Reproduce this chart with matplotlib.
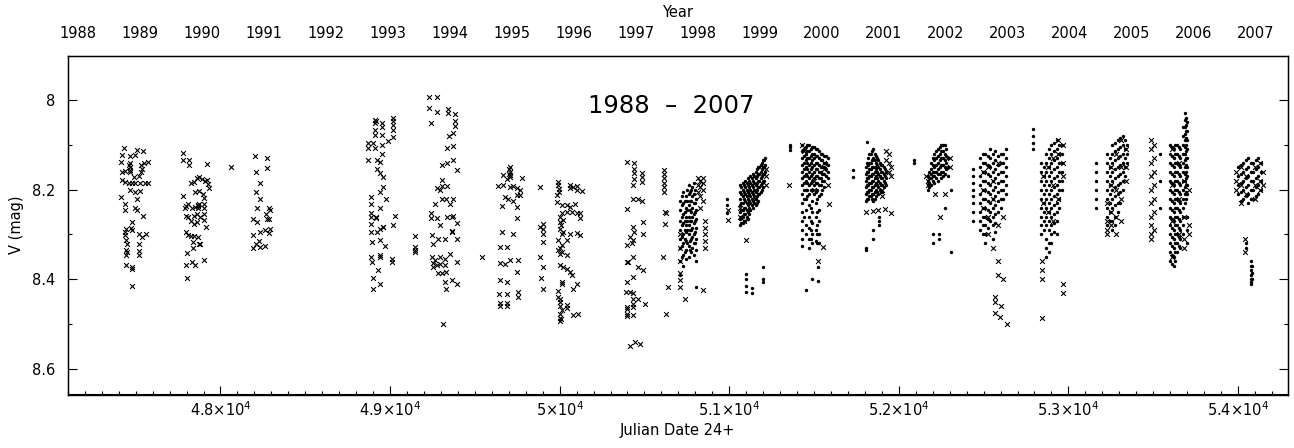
import matplotlib
matplotlib.use("Agg")
import matplotlib.pyplot as plt
from matplotlib.ticker import MultipleLocator

# V magnitudes, JD - 2400000
# sparse seasons: (JD, V) for each cross
cross_1989 = [
    (47433, 8.107), (47419, 8.123), (47464, 8.124), (47497, 8.123), (47507, 8.112), (47543, 8.114),
    (47413, 8.139), (47464, 8.141), (47464, 8.156), (47464, 8.150), (47458, 8.146), (47530, 8.146),
    (47550, 8.141), (47570, 8.138), (47419, 8.160), (47438, 8.158), (47468, 8.160), (47530, 8.160),
    (47540, 8.153), (47419, 8.178), (47438, 8.183), (47458, 8.186), (47478, 8.186), (47497, 8.186),
    (47527, 8.186), (47556, 8.186), (47570, 8.186), (47490, 8.171), (47520, 8.170), (47468, 8.201),
    (47497, 8.206), (47527, 8.202), (47413, 8.217), (47507, 8.220), (47438, 8.231), (47438, 8.246),
    (47497, 8.241), (47507, 8.246), (47543, 8.259), (47478, 8.272), (47442, 8.287), (47478, 8.290),
    (47438, 8.302), (47442, 8.313), (47448, 8.322), (47517, 8.300), (47517, 8.322), (47540, 8.305),
    (47562, 8.298), (47517, 8.337), (47517, 8.346), (47442, 8.346), (47442, 8.369), (47478, 8.372),
    (47480, 8.378), (47478, 8.415), (47444, 8.335), (47446, 8.340), (47470, 8.285), (47440, 8.295),
]
cross_1990 = [
    (47782, 8.119), (47782, 8.134), (47814, 8.134), (47814, 8.146), (47920, 8.144), (47827, 8.186),
    (47845, 8.182), (47861, 8.175), (47876, 8.172), (47890, 8.177), (47910, 8.180), (47920, 8.179),
    (47929, 8.188), (47935, 8.197), (47851, 8.205), (47876, 8.203), (47896, 8.210), (47782, 8.215),
    (47904, 8.218), (47811, 8.231), (47798, 8.237), (47792, 8.241), (47831, 8.240), (47851, 8.239),
    (47865, 8.235), (47876, 8.231), (47900, 8.231), (47904, 8.240), (47798, 8.258), (47811, 8.262),
    (47841, 8.258), (47861, 8.255), (47880, 8.260), (47904, 8.255), (47904, 8.268), (47827, 8.271),
    (47841, 8.276), (47861, 8.272), (47916, 8.283), (47798, 8.294), (47811, 8.302), (47827, 8.304),
    (47841, 8.304), (47865, 8.305), (47876, 8.322), (47837, 8.317), (47802, 8.341), (47837, 8.331),
    (47798, 8.369), (47831, 8.361), (47851, 8.369), (47904, 8.356), (47802, 8.398), (47870, 8.240),
    (47868, 8.236), (47880, 8.322), (48061, 8.149),
]
cross_1991 = [
    (48204, 8.124), (48277, 8.130), (48210, 8.160), (48273, 8.152), (48234, 8.186), (48210, 8.205),
    (48234, 8.221), (48214, 8.242), (48289, 8.240), (48293, 8.246), (48190, 8.266), (48216, 8.272),
    (48270, 8.254), (48273, 8.266), (48289, 8.266), (48293, 8.287), (48263, 8.289), (48234, 8.294),
    (48285, 8.296), (48190, 8.302), (48230, 8.315), (48210, 8.321), (48234, 8.328), (48263, 8.326),
    (48193, 8.331),
]
cross_1993 = [
    (48912, 8.045), (48917, 8.048), (48912, 8.052), (48951, 8.052), (49020, 8.041), (49020, 8.048),
    (49020, 8.056), (48912, 8.066), (48951, 8.060), (49020, 8.067), (48912, 8.078), (48951, 8.078),
    (49020, 8.083), (48990, 8.091), (48872, 8.097), (48902, 8.097), (48872, 8.108), (48912, 8.108),
    (48951, 8.101), (48951, 8.121), (48872, 8.135), (48921, 8.134), (48941, 8.138), (48921, 8.153),
    (48941, 8.164), (48957, 8.171), (48957, 8.194), (48941, 8.205), (48976, 8.222), (48886, 8.216),
    (48886, 8.231), (48941, 8.242), (48886, 8.252), (48917, 8.261), (48886, 8.261), (49029, 8.259),
    (48886, 8.276), (48917, 8.264), (48957, 8.283), (49016, 8.279), (48886, 8.294), (48921, 8.294),
    (48941, 8.287), (48961, 8.283), (48896, 8.317), (48941, 8.313), (48971, 8.326), (48886, 8.350),
    (48896, 8.361), (48941, 8.350), (48941, 8.346), (49010, 8.354), (49010, 8.361), (48931, 8.380),
    (48902, 8.398), (48941, 8.410), (48902, 8.421),
    (49147, 8.304), (49147, 8.328), (49147, 8.335), (49147, 8.339),
]
cross_1994 = [
    (49232, 7.993), (49275, 7.993), (49232, 8.019), (49275, 8.028), (49344, 8.021), (49344, 8.030),
    (49383, 8.032), (49240, 8.051), (49383, 8.048), (49383, 8.058), (49373, 8.074), (49350, 8.080),
    (49338, 8.108), (49373, 8.103), (49305, 8.145), (49338, 8.140), (49373, 8.134), (49393, 8.156),
    (49305, 8.179), (49295, 8.201), (49275, 8.197), (49305, 8.192), (49338, 8.192), (49265, 8.232),
    (49305, 8.220), (49330, 8.220), (49373, 8.220), (49354, 8.231), (49240, 8.252), (49240, 8.264),
    (49275, 8.264), (49295, 8.279), (49338, 8.262), (49364, 8.262), (49373, 8.259), (49393, 8.274),
    (49364, 8.292), (49364, 8.294), (49246, 8.302), (49285, 8.311), (49324, 8.311), (49393, 8.311),
    (49255, 8.322), (49246, 8.351), (49265, 8.358), (49295, 8.351), (49324, 8.354), (49354, 8.344),
    (49393, 8.361), (49252, 8.363), (49255, 8.372), (49275, 8.369), (49295, 8.365), (49324, 8.369),
    (49285, 8.386), (49305, 8.387), (49330, 8.384), (49364, 8.401), (49324, 8.406), (49330, 8.421),
    (49393, 8.410), (49314, 8.499), (49540, 8.350),
]
cross_1995 = [
    (49707, 8.150), (49707, 8.160), (49668, 8.168), (49707, 8.171), (49688, 8.177), (49638, 8.192),
    (49668, 8.190), (49707, 8.194), (49727, 8.192), (49776, 8.175), (49747, 8.197), (49766, 8.201),
    (49766, 8.212), (49747, 8.212), (49678, 8.216), (49697, 8.222), (49727, 8.225), (49658, 8.237),
    (49747, 8.238), (49747, 8.264), (49658, 8.294), (49727, 8.299), (49648, 8.328), (49688, 8.328),
    (49648, 8.363), (49678, 8.366), (49707, 8.358), (49756, 8.356), (49747, 8.384), (49648, 8.401),
    (49688, 8.406), (49645, 8.432), (49688, 8.432), (49756, 8.428), (49756, 8.440), (49648, 8.454),
    (49648, 8.460), (49688, 8.453), (49688, 8.459), (49700, 8.155), (49704, 8.165), (49710, 8.168),
]
cross_1996 = [
    (49992, 8.183), (49992, 8.190), (50061, 8.190), (50061, 8.197), (50080, 8.194), (50100, 8.192),
    (50100, 8.201), (50130, 8.203), (49982, 8.212), (49982, 8.227), (50012, 8.235), (50041, 8.235),
    (50061, 8.238), (50090, 8.231), (50012, 8.252), (50041, 8.250), (50071, 8.250), (50100, 8.252),
    (50120, 8.253), (50120, 8.264), (49884, 8.283), (49903, 8.276), (49903, 8.287), (49903, 8.298),
    (49903, 8.317), (50002, 8.272), (50021, 8.268), (50002, 8.287), (50012, 8.299), (50021, 8.294),
    (50061, 8.298), (50100, 8.297), (50120, 8.302), (49992, 8.313), (50012, 8.324), (50041, 8.313),
    (49992, 8.335), (50012, 8.339), (50002, 8.343), (50041, 8.346), (49884, 8.350), (49903, 8.373),
    (50002, 8.369), (50021, 8.372), (50041, 8.376), (50061, 8.384), (50071, 8.391), (49893, 8.398),
    (49903, 8.421), (50012, 8.406), (50012, 8.411), (50080, 8.421), (50100, 8.410), (49992, 8.440),
    (50002, 8.451), (50041, 8.458), (50041, 8.465), (50012, 8.469), (50002, 8.477), (50002, 8.486),
    (50002, 8.493), (50080, 8.480), (50110, 8.477), (49992, 8.426), (49995, 8.198), (49998, 8.205),
    (50005, 8.262), (50008, 8.280), (50000, 8.330), (50005, 8.445), (50003, 8.460), (50006, 8.488),
    (49884, 8.194),
]
cross_1997 = [
    (50398, 8.138), (50438, 8.140), (50438, 8.153), (50438, 8.162), (50438, 8.177), (50434, 8.190),
    (50483, 8.162), (50483, 8.171), (50483, 8.183), (50434, 8.220), (50463, 8.222), (50483, 8.225),
    (50398, 8.244), (50434, 8.283), (50438, 8.294), (50414, 8.305), (50489, 8.272), (50489, 8.298),
    (50434, 8.313), (50395, 8.324), (50424, 8.319), (50430, 8.350), (50395, 8.361), (50404, 8.361),
    (50463, 8.372), (50493, 8.380), (50434, 8.395), (50395, 8.406), (50391, 8.428), (50414, 8.428),
    (50434, 8.431), (50430, 8.443), (50463, 8.443), (50503, 8.456), (50395, 8.462), (50395, 8.467),
    (50395, 8.477), (50395, 8.483), (50430, 8.456), (50430, 8.462), (50430, 8.480),
    (50414, 8.548), (50445, 8.540), (50475, 8.545),
]

# dense seasons: nightly columns (JD, [V, ...])
cross_1998 = [
    (50616, [8.156, 8.165, 8.175, 8.185, 8.195, 8.205]), (50621, [8.250, 8.277]), (50626, [8.253, 8.477]),
    (50609, [8.350]), (50640, [8.417]), (50709, [8.402, 8.417, 8.30, 8.33, 8.36, 8.385]),
    (50739, [8.443]), (50815, [8.175, 8.19, 8.205]), (50830, [8.18, 8.195, 8.215, 8.24]),
    (50845, [8.175, 8.185, 8.20, 8.225]), (50860, [8.27, 8.285, 8.30, 8.315, 8.33]), (50847, [8.423]),
]
dot_1998 = [
    (50712, [8.225, 8.245, 8.27, 8.29, 8.31, 8.33, 8.36, 8.39]),
    (50720, [8.215, 8.235, 8.26, 8.28, 8.305, 8.325, 8.35]),
    (50728, [8.205, 8.23, 8.255, 8.275, 8.30, 8.32, 8.345, 8.37]),
    (50737, [8.225, 8.25, 8.27, 8.29, 8.31, 8.34]),
    (50745, [8.215, 8.24, 8.26, 8.28, 8.295, 8.315, 8.335, 8.355]),
    (50752, [8.20, 8.225, 8.245, 8.27, 8.29, 8.32]),
    (50760, [8.19, 8.21, 8.235, 8.26, 8.28, 8.30, 8.325, 8.35]),
    (50768, [8.205, 8.225, 8.245, 8.27, 8.29, 8.315, 8.335]),
    (50775, [8.20, 8.225, 8.25, 8.27, 8.29, 8.31, 8.34]),
    (50783, [8.195, 8.215, 8.24, 8.26, 8.285, 8.305, 8.33]),
    (50790, [8.185, 8.21, 8.23, 8.255, 8.275, 8.30, 8.32, 8.345]),
    (50798, [8.20, 8.23, 8.25, 8.27, 8.295, 8.32]),
    (50805, [8.22, 8.245, 8.265, 8.285, 8.31, 8.335, 8.36]),
    (50807, [8.417]),
]
cross_1999 = [
    (50990, [8.245, 8.268]), (51100, [8.313]), (51215, [8.155, 8.17, 8.19]),
    (51065, [8.24, 8.26]), (51150, [8.20, 8.22]), (51090, [8.27]),
]
dot_1999 = [
    (50984, [8.22, 8.235, 8.253]),
    (51065, [8.19, 8.205, 8.22, 8.235, 8.25, 8.265, 8.28]),
    (51072, [8.195, 8.21, 8.23, 8.245, 8.26, 8.275]),
    (51080, [8.185, 8.20, 8.215, 8.23, 8.245, 8.26, 8.275]),
    (51087, [8.19, 8.205, 8.22, 8.24, 8.255, 8.27]),
    (51095, [8.18, 8.195, 8.21, 8.225, 8.24, 8.255, 8.27]),
    (51102, [8.185, 8.20, 8.215, 8.23, 8.245, 8.26]),
    (51110, [8.175, 8.19, 8.205, 8.22, 8.235, 8.25, 8.265]),
    (51117, [8.18, 8.195, 8.21, 8.225, 8.24, 8.255]),
    (51125, [8.17, 8.185, 8.20, 8.215, 8.23, 8.245]),
    (51133, [8.175, 8.19, 8.205, 8.22, 8.235]),
    (51140, [8.165, 8.18, 8.195, 8.21, 8.225, 8.24]),
    (51147, [8.17, 8.185, 8.20, 8.215, 8.23]),
    (51155, [8.16, 8.175, 8.19, 8.205, 8.22, 8.235]),
    (51162, [8.155, 8.17, 8.185, 8.20, 8.215, 8.23]),
    (51170, [8.15, 8.165, 8.18, 8.195, 8.21, 8.225]),
    (51177, [8.15, 8.165, 8.18, 8.195, 8.21]),
    (51185, [8.145, 8.16, 8.175, 8.19, 8.205]),
    (51192, [8.14, 8.155, 8.17, 8.185, 8.20]),
    (51200, [8.135, 8.15, 8.165, 8.18, 8.195, 8.373, 8.40, 8.405]),
    (51206, [8.135, 8.15, 8.165, 8.18]),
    (51212, [8.13, 8.145, 8.16]),
    (51100, [8.388, 8.40, 8.415, 8.429]), (51132, [8.42, 8.43]),
]
cross_2000 = [
    (51350, [8.19]), (51524, [8.36]), (51583, [8.19]), (51587, [8.231]), (51554, [8.328]),
    (51430, [8.10]), (51440, [8.115]), (51560, [8.14, 8.155]), (51500, [8.18, 8.20]),
]
dot_2000 = [
    (51357, [8.100, 8.106, 8.112]),
    (51430, [8.10, 8.115, 8.13, 8.145, 8.16, 8.175, 8.19, 8.21, 8.23, 8.25, 8.27, 8.29, 8.31, 8.325]),
    (51440, [8.11, 8.125, 8.14, 8.155, 8.17, 8.185, 8.20, 8.22, 8.26]),
    (51450, [8.105, 8.12, 8.135, 8.15, 8.165, 8.18, 8.20, 8.22, 8.245, 8.28, 8.30]),
    (51460, [8.10, 8.115, 8.13, 8.14, 8.155, 8.17, 8.185, 8.20, 8.215]),
    (51470, [8.10, 8.115, 8.13, 8.145, 8.16, 8.175, 8.19, 8.21, 8.235, 8.26, 8.285, 8.31, 8.33]),
    (51480, [8.11, 8.125, 8.14, 8.155, 8.17, 8.185, 8.20, 8.24, 8.27, 8.29, 8.31]),
    (51490, [8.105, 8.12, 8.135, 8.15, 8.165, 8.18, 8.20, 8.225, 8.25, 8.275, 8.30, 8.32, 8.40]),
    (51500, [8.105, 8.12, 8.13, 8.145, 8.16, 8.175, 8.19, 8.21]),
    (51510, [8.11, 8.125, 8.14, 8.155, 8.17, 8.185, 8.205, 8.23, 8.26, 8.29, 8.315]),
    (51520, [8.11, 8.125, 8.14, 8.155, 8.17, 8.185, 8.20, 8.22, 8.25, 8.28, 8.30, 8.32]),
    (51530, [8.115, 8.13, 8.145, 8.16, 8.175, 8.19, 8.215, 8.245, 8.27, 8.30, 8.32]),
    (51540, [8.12, 8.135, 8.15, 8.16, 8.175, 8.19, 8.21]),
    (51550, [8.12, 8.135, 8.15, 8.165, 8.18, 8.20]),
    (51560, [8.125, 8.14, 8.15, 8.165, 8.18, 8.195]),
    (51570, [8.125, 8.14, 8.155, 8.17]),
    (51580, [8.13, 8.145, 8.16, 8.175]),
    (51524, [8.373, 8.403]), (51455, [8.425]),
]
cross_2001 = [
    (51925, [8.115, 8.135]), (51945, [8.12, 8.14, 8.16]), (51955, [8.15, 8.17]), (51809, [8.25]),
    (51848, [8.248]), (51878, [8.245]), (51917, [8.243]), (51956, [8.253]), (51900, [8.20, 8.215]),
]
dot_2001 = [
    (51727, [8.156, 8.171]), (51810, [8.093]),
    (51805, [8.15, 8.165, 8.18, 8.195, 8.21, 8.225]),
    (51812, [8.14, 8.16, 8.175, 8.19, 8.205, 8.22]),
    (51820, [8.13, 8.145, 8.16, 8.175, 8.19, 8.205, 8.22]),
    (51827, [8.12, 8.14, 8.155, 8.17, 8.185, 8.20, 8.215]),
    (51835, [8.12, 8.14, 8.155, 8.17, 8.185, 8.20, 8.215]),
    (51842, [8.115, 8.135, 8.15, 8.165, 8.18, 8.195, 8.21, 8.22]),
    (51850, [8.11, 8.13, 8.15, 8.165, 8.18, 8.195, 8.21, 8.225]),
    (51857, [8.12, 8.135, 8.15, 8.16, 8.175, 8.19, 8.205, 8.22]),
    (51865, [8.125, 8.14, 8.155, 8.17, 8.185, 8.20, 8.215]),
    (51872, [8.13, 8.145, 8.16, 8.175, 8.19, 8.205]),
    (51880, [8.135, 8.15, 8.165, 8.18, 8.195, 8.21]),
    (51887, [8.14, 8.155, 8.17, 8.185, 8.20]),
    (51895, [8.145, 8.16, 8.175, 8.19, 8.205]),
    (51902, [8.145, 8.16, 8.175, 8.19, 8.205]),
    (51910, [8.15, 8.165, 8.18, 8.195]),
    (51918, [8.155, 8.17, 8.185]),
    (51925, [8.16, 8.175, 8.19]),
    (51886, [8.26, 8.27, 8.28]), (51846, [8.29, 8.31]), (51809, [8.33, 8.335]),
]
cross_2002 = [
    (52170, [8.18, 8.19]), (52215, [8.21]), (52275, [8.21]), (52240, [8.26]),
    (52300, [8.13, 8.15]), (52160, [8.17]),
]
dot_2002 = [
    (52090, [8.135, 8.14]),
    (52170, [8.17, 8.18, 8.19, 8.20]),
    (52180, [8.16, 8.175, 8.185, 8.195]),
    (52190, [8.14, 8.155, 8.165, 8.175, 8.19]),
    (52200, [8.13, 8.145, 8.16, 8.17, 8.18]),
    (52210, [8.12, 8.135, 8.15, 8.16, 8.17, 8.185]),
    (52220, [8.115, 8.13, 8.145, 8.16, 8.175]),
    (52230, [8.11, 8.125, 8.14, 8.155, 8.165, 8.18]),
    (52240, [8.105, 8.12, 8.135, 8.15, 8.165]),
    (52250, [8.10, 8.115, 8.13, 8.145, 8.16, 8.175]),
    (52260, [8.10, 8.115, 8.13, 8.145, 8.16, 8.17]),
    (52270, [8.10, 8.12, 8.135, 8.15, 8.165, 8.24]),
    (52280, [8.11, 8.125, 8.14, 8.155]),
    (52290, [8.13, 8.15, 8.17]),
    (52239, [8.30, 8.31]), (52202, [8.298, 8.32]), (52310, [8.34, 8.20]),
]
cross_2003 = [
    (52495, [8.16, 8.20, 8.24]), (52525, [8.15, 8.26, 8.30]), (52555, [8.18, 8.22, 8.33]),
    (52585, [8.14, 8.28, 8.36, 8.39]), (52615, [8.26, 8.40]), (52570, [8.44, 8.45]),
    (52600, [8.46]), (52565, [8.475]), (52595, [8.485]), (52640, [8.50]),
]
dot_2003 = [
    (52440, [8.155, 8.17, 8.185, 8.20, 8.215, 8.23, 8.25, 8.27]),
    (52480, [8.13, 8.15, 8.17, 8.19, 8.21, 8.23, 8.25, 8.27, 8.29]),
    (52495, [8.12, 8.14, 8.16, 8.18, 8.20, 8.22, 8.24, 8.26, 8.28, 8.30]),
    (52510, [8.12, 8.14, 8.16, 8.18, 8.20, 8.22, 8.24, 8.26, 8.28, 8.30, 8.32]),
    (52525, [8.125, 8.145, 8.165, 8.185, 8.205, 8.225, 8.245, 8.265, 8.285]),
    (52540, [8.11, 8.13, 8.15, 8.17, 8.19, 8.21, 8.23, 8.25, 8.27]),
    (52555, [8.12, 8.14, 8.16, 8.18, 8.20, 8.22, 8.24, 8.26, 8.28, 8.31]),
    (52570, [8.115, 8.135, 8.155, 8.175, 8.195, 8.215, 8.235, 8.255, 8.275, 8.295]),
    (52585, [8.125, 8.145, 8.165, 8.185, 8.205, 8.225, 8.25]),
    (52600, [8.12, 8.14, 8.16, 8.18, 8.20, 8.22, 8.24]),
    (52615, [8.12, 8.14, 8.16, 8.18, 8.20, 8.22]),
    (52630, [8.11, 8.13, 8.15, 8.17, 8.19, 8.21]),
]
cross_2004 = [
    (52842, [8.36, 8.38, 8.40, 8.487]), (52880, [8.15, 8.25]), (52910, [8.13, 8.19, 8.27]),
    (52940, [8.09, 8.12, 8.22]), (52970, [8.10, 8.14, 8.17, 8.41, 8.43]), (52850, [8.17, 8.23]),
]
dot_2004 = [
    (52790, [8.065, 8.08, 8.095, 8.11]),
    (52840, [8.14, 8.16, 8.18, 8.20, 8.22, 8.24, 8.26, 8.28, 8.30]),
    (52855, [8.15, 8.17, 8.19, 8.21, 8.23, 8.25, 8.27, 8.29]),
    (52870, [8.12, 8.14, 8.16, 8.18, 8.20, 8.22, 8.24, 8.26, 8.28, 8.31, 8.33, 8.35]),
    (52885, [8.11, 8.13, 8.15, 8.17, 8.19, 8.21, 8.23, 8.25, 8.27, 8.29, 8.32, 8.34]),
    (52900, [8.10, 8.12, 8.14, 8.16, 8.18, 8.20, 8.22, 8.24, 8.26, 8.28, 8.30, 8.32]),
    (52915, [8.095, 8.115, 8.135, 8.155, 8.175, 8.195, 8.215, 8.235, 8.255, 8.275, 8.295]),
    (52930, [8.09, 8.11, 8.13, 8.15, 8.17, 8.19, 8.21, 8.23, 8.25, 8.27, 8.30]),
    (52945, [8.10, 8.12, 8.14, 8.16, 8.18, 8.20, 8.22, 8.24]),
    (52960, [8.10, 8.12, 8.14, 8.16, 8.18, 8.20]),
]
cross_2005 = [
    (53225, [8.23, 8.27, 8.29, 8.30]), (53250, [8.15, 8.19, 8.25, 8.28]), (53280, [8.12, 8.20, 8.26, 8.30]),
    (53310, [8.09, 8.15, 8.22, 8.27]), (53340, [8.11, 8.15, 8.18]),
]
dot_2005 = [
    (53165, [8.14, 8.16, 8.18, 8.20, 8.22, 8.24]),
    (53230, [8.12, 8.14, 8.16, 8.18, 8.20, 8.22, 8.24, 8.26, 8.28]),
    (53245, [8.13, 8.15, 8.17, 8.19, 8.21, 8.23, 8.25, 8.27]),
    (53260, [8.10, 8.12, 8.14, 8.16, 8.18, 8.20, 8.22, 8.24, 8.27, 8.29]),
    (53275, [8.095, 8.115, 8.135, 8.155, 8.175, 8.195, 8.215, 8.235, 8.26, 8.28]),
    (53290, [8.09, 8.11, 8.13, 8.15, 8.17, 8.19, 8.21, 8.23, 8.25]),
    (53305, [8.085, 8.105, 8.125, 8.145, 8.165, 8.185, 8.205, 8.23]),
    (53320, [8.08, 8.10, 8.12, 8.14, 8.16, 8.18, 8.20]),
    (53333, [8.09, 8.11, 8.13, 8.15, 8.17]),
    (53345, [8.10, 8.12, 8.14]),
]
cross_2006 = [
    (53490, [8.09, 8.11, 8.14, 8.17, 8.20, 8.23, 8.26, 8.28, 8.30, 8.31]),
    (53505, [8.10, 8.13, 8.16, 8.19, 8.22, 8.25, 8.29]),
    (53610, [8.11, 8.19, 8.27, 8.35]), (53650, [8.14, 8.22, 8.30]),
    (53680, [8.18, 8.26, 8.31, 8.33]), (53710, [8.20, 8.28, 8.30]),
]
dot_2006 = [
    (53540, [8.12, 8.18, 8.24]),
    (53600, [8.10, 8.12, 8.14, 8.16, 8.18, 8.20, 8.22, 8.24, 8.26, 8.28, 8.30, 8.32, 8.34, 8.36]),
    (53610, [8.105, 8.125, 8.145, 8.165, 8.185, 8.205, 8.225, 8.245, 8.265, 8.285, 8.305, 8.325, 8.345, 8.365]),
    (53620, [8.11, 8.13, 8.15, 8.17, 8.19, 8.21, 8.23, 8.25, 8.27, 8.29, 8.31, 8.33, 8.35, 8.37]),
    (53630, [8.10, 8.12, 8.14, 8.16, 8.18, 8.20, 8.22, 8.24, 8.26, 8.28, 8.30, 8.32, 8.34, 8.36]),
    (53640, [8.10, 8.12, 8.14, 8.16, 8.18, 8.20, 8.22, 8.24, 8.26, 8.28, 8.30, 8.32, 8.34]),
    (53650, [8.105, 8.125, 8.145, 8.165, 8.185, 8.205, 8.225, 8.245, 8.265, 8.285, 8.305, 8.325]),
    (53660, [8.11, 8.13, 8.15, 8.17, 8.19, 8.21, 8.23, 8.25, 8.27, 8.29, 8.31, 8.33]),
    (53675, [8.06, 8.08, 8.10, 8.12, 8.14, 8.16, 8.18, 8.20, 8.22, 8.24, 8.26, 8.28, 8.30]),
    (53690, [8.03, 8.045, 8.06, 8.075, 8.09, 8.105, 8.12, 8.135, 8.15, 8.165, 8.18, 8.195, 8.21, 8.23]),
    (53695, [8.04, 8.055, 8.07, 8.085, 8.10, 8.115, 8.13, 8.145, 8.16, 8.175, 8.19, 8.205, 8.22]),
    (53700, [8.05, 8.07, 8.09, 8.11, 8.13, 8.15, 8.17, 8.19, 8.21, 8.26, 8.29, 8.32]),
]
cross_2007 = [
    (53990, [8.16, 8.18, 8.20]), (54020, [8.15, 8.19, 8.23]), (54050, [8.17, 8.21]),
    (54100, [8.15, 8.19, 8.22]), (54130, [8.14, 8.18, 8.20]), (54150, [8.16, 8.19]),
    (54040, [8.31, 8.34]),
]
dot_2007 = [
    (54000, [8.15, 8.17, 8.19, 8.21]),
    (54015, [8.145, 8.165, 8.185, 8.205, 8.225]),
    (54030, [8.14, 8.16, 8.18, 8.20, 8.22]),
    (54047, [8.135, 8.155, 8.175, 8.195, 8.215]),
    (54060, [8.13, 8.15, 8.17, 8.19, 8.21, 8.23]),
    (54076, [8.14, 8.16, 8.18, 8.20, 8.22]),
    (54090, [8.14, 8.16, 8.18, 8.20, 8.22]),
    (54105, [8.135, 8.155, 8.175, 8.195, 8.215]),
    (54120, [8.13, 8.15, 8.17, 8.19, 8.21]),
    (54135, [8.14, 8.16, 8.18, 8.20]),
    (54045, [8.32, 8.33]),
    (54075, [8.36, 8.37, 8.38, 8.39, 8.40, 8.405, 8.41]),
    (54085, [8.37, 8.385, 8.40]),
]

years = list(range(1988, 2008))
year_jd = [47161.5, 47527.5, 47892.5, 48257.5, 48622.5, 48988.5, 49353.5, 49718.5, 50083.5, 50449.5,
           50814.5, 51179.5, 51544.5, 51910.5, 52275.5, 52640.5, 53005.5, 53371.5, 53736.5, 54101.5]
jd_ticks = [48000, 49000, 50000, 51000, 52000, 53000, 54000]
jd_labels = [r"$4.8{\times}10^4$", r"$4.9{\times}10^4$", r"$5{\times}10^4$", r"$5.1{\times}10^4$",
             r"$5.2{\times}10^4$", r"$5.3{\times}10^4$", r"$5.4{\times}10^4$"]


def columns(cols):
    return [(jd, m) for jd, mags in cols for m in mags]


crosses = (cross_1989 + cross_1990 + cross_1991 + cross_1993 + cross_1994 + cross_1995
           + cross_1996 + cross_1997)
for c in [cross_1998, cross_1999, cross_2000, cross_2001, cross_2002, cross_2003,
          cross_2004, cross_2005, cross_2006, cross_2007]:
    crosses += columns(c)
dots = []
for d in [dot_1998, dot_1999, dot_2000, dot_2001, dot_2002, dot_2003, dot_2004,
          dot_2005, dot_2006, dot_2007]:
    dots += columns(d)

W, H = 1294, 448
fig = plt.figure(figsize=(W / 100, H / 100), dpi=100)
ax = fig.add_axes([67.5 / W, 1 - 394.5 / H, (1288 - 67.5) / W, (394.5 - 56) / H])

ax.scatter([p[0] for p in crosses], [p[1] for p in crosses], marker="x", s=12,
           linewidths=0.8, color="black")
ax.scatter([p[0] for p in dots], [p[1] for p in dots], marker="o", s=6,
           linewidths=0, color="black")

ax.set_xlim(47098, 54295)
ax.set_ylim(8.657, 7.902)

ax.set_xticks(jd_ticks, labels=jd_labels)
ax.xaxis.set_minor_locator(MultipleLocator(100))
ax.set_yticks([8.0, 8.2, 8.4, 8.6], labels=["8", "8.2", "8.4", "8.6"])
ax.yaxis.set_minor_locator(MultipleLocator(0.1))
ax.tick_params(which="major", direction="in", length=6.5, width=0.8, top=True, right=True,
               labelsize=10.5)
ax.tick_params(which="minor", direction="in", length=3.2, width=0.8, top=True, right=True)
ax.tick_params(axis="x", which="major", pad=4.5)
ax.tick_params(axis="y", which="major", pad=9)
for s in ax.spines.values():
    s.set_linewidth(1.0)

top = ax.twiny()
top.set_xlim(ax.get_xlim())
top.set_xticks(year_jd, labels=[str(y) for y in years])
top.tick_params(length=0, labelsize=10.5, pad=11)
top.xaxis.set_minor_locator(plt.NullLocator())

ax.text(50656, 8.013, "1988  \u2013  2007", ha="center", va="center", fontsize=17.5)

fig.text(677.5 / W, 1 - 12.5 / H, "Year", ha="center", va="center", fontsize=10.5)
fig.text(677.5 / W, 1 - 430 / H, "Julian Date 24+", ha="center", va="center", fontsize=10.5)
fig.text(17 / W, 1 - 225 / H, "V (mag)", ha="center", va="center", fontsize=10.5, rotation=90)

fig.savefig("out.png", dpi=100)
